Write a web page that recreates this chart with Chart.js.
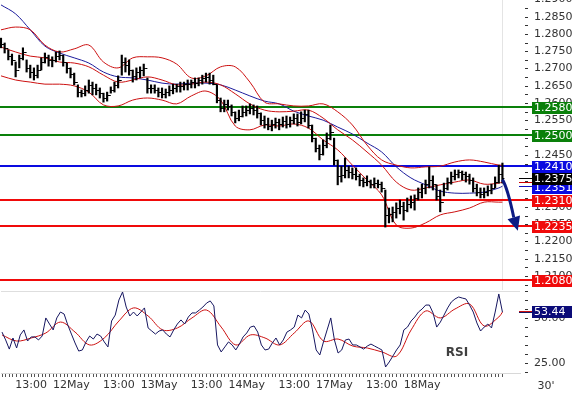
<!DOCTYPE html>
<html lang="en">
<head>
    <meta charset="UTF-8">
    <title>EUR/USD 30'</title>
    <script src="https://cdn.jsdelivr.net/npm/chart.js"></script>
    <style>
        body {
            margin: 0;
            background: #fff;
            width: 572px;
            height: 398px;
            overflow: hidden;
            position: relative;
        }
        .panel {
            position: absolute;
            left: 0;
            width: 572px;
        }
        #price-box { top: -10px; height: 300px; }
        #rsi-box { top: 290px; height: 108px; }
    </style>
</head>
<body>
    <div class="panel" id="price-box"><canvas id="price-chart"></canvas></div>
    <div class="panel" id="rsi-box"><canvas id="rsi-chart"></canvas></div>

    <script>
        // hourly bars
        const highs = [
            1.2779, 1.2765, 1.2745, 1.2733, 1.2710, 1.2730, 1.2751, 1.2716, 1.2701, 1.2693,
            1.2701, 1.2722, 1.2736, 1.2730, 1.2725, 1.2739, 1.2742, 1.2730, 1.2707, 1.2693,
            1.2678, 1.2644, 1.2629, 1.2641, 1.2658, 1.2652, 1.2646, 1.2635, 1.2620, 1.2623,
            1.2638, 1.2652, 1.2670, 1.2730, 1.2722, 1.2716, 1.2687, 1.2693, 1.2696, 1.2704,
            1.2664, 1.2644, 1.2644, 1.2635, 1.2635, 1.2632, 1.2641, 1.2646, 1.2646, 1.2652,
            1.2652, 1.2658, 1.2658, 1.2664, 1.2664, 1.2672, 1.2678, 1.2678, 1.2672, 1.2644,
            1.2606, 1.2600, 1.2600, 1.2586, 1.2566, 1.2571, 1.2583, 1.2583, 1.2589, 1.2586,
            1.2583, 1.2563, 1.2554, 1.2548, 1.2542, 1.2548, 1.2545, 1.2551, 1.2554, 1.2551,
            1.2560, 1.2560, 1.2566, 1.2571, 1.2571, 1.2528, 1.2490, 1.2470, 1.2485, 1.2505,
            1.2528, 1.2490, 1.2427, 1.2409, 1.2433, 1.2409, 1.2404, 1.2404, 1.2386, 1.2375,
            1.2381, 1.2369, 1.2375, 1.2369, 1.2363, 1.2340, 1.2288, 1.2291, 1.2303, 1.2311,
            1.2305, 1.2317, 1.2323, 1.2326, 1.2346, 1.2357, 1.2369, 1.2407, 1.2381, 1.2355,
            1.2340, 1.2360, 1.2375, 1.2392, 1.2398, 1.2398, 1.2395, 1.2392, 1.2386, 1.2375,
            1.2357, 1.2346, 1.2346, 1.2352, 1.2357, 1.2378, 1.2412, 1.2418
        ];
        const lows = [
            1.2751, 1.2736, 1.2716, 1.2701, 1.2667, 1.2693, 1.2716, 1.2681, 1.2664, 1.2658,
            1.2664, 1.2687, 1.2707, 1.2698, 1.2696, 1.2710, 1.2716, 1.2698, 1.2678, 1.2664,
            1.2644, 1.2609, 1.2609, 1.2612, 1.2620, 1.2615, 1.2615, 1.2606, 1.2594, 1.2597,
            1.2620, 1.2623, 1.2635, 1.2672, 1.2681, 1.2672, 1.2652, 1.2658, 1.2664, 1.2670,
            1.2620, 1.2620, 1.2620, 1.2609, 1.2606, 1.2606, 1.2612, 1.2618, 1.2623, 1.2623,
            1.2629, 1.2629, 1.2635, 1.2635, 1.2641, 1.2646, 1.2652, 1.2646, 1.2644, 1.2592,
            1.2566, 1.2566, 1.2571, 1.2554, 1.2534, 1.2540, 1.2551, 1.2554, 1.2560, 1.2557,
            1.2548, 1.2528, 1.2519, 1.2514, 1.2511, 1.2519, 1.2514, 1.2522, 1.2519, 1.2522,
            1.2531, 1.2525, 1.2531, 1.2537, 1.2519, 1.2479, 1.2450, 1.2427, 1.2441, 1.2462,
            1.2485, 1.2412, 1.2355, 1.2363, 1.2375, 1.2375, 1.2372, 1.2369, 1.2352, 1.2349,
            1.2352, 1.2346, 1.2346, 1.2346, 1.2334, 1.2233, 1.2245, 1.2248, 1.2259, 1.2271,
            1.2253, 1.2277, 1.2288, 1.2282, 1.2311, 1.2317, 1.2329, 1.2346, 1.2340, 1.2311,
            1.2277, 1.2323, 1.2340, 1.2357, 1.2369, 1.2375, 1.2369, 1.2363, 1.2357, 1.2334,
            1.2323, 1.2317, 1.2317, 1.2323, 1.2329, 1.2346, 1.2360, 1.2360
        ];
        const closes = [
            1.2762, 1.2751, 1.2727, 1.2716, 1.2687, 1.2722, 1.2739, 1.2693, 1.2681, 1.2672,
            1.2687, 1.2710, 1.2725, 1.2716, 1.2716, 1.2727, 1.2730, 1.2710, 1.2693, 1.2675,
            1.2652, 1.2623, 1.2620, 1.2629, 1.2644, 1.2635, 1.2629, 1.2620, 1.2606, 1.2615,
            1.2629, 1.2644, 1.2658, 1.2710, 1.2701, 1.2687, 1.2670, 1.2681, 1.2687, 1.2693,
            1.2635, 1.2635, 1.2629, 1.2623, 1.2618, 1.2623, 1.2629, 1.2635, 1.2641, 1.2641,
            1.2646, 1.2646, 1.2652, 1.2649, 1.2658, 1.2664, 1.2667, 1.2658, 1.2646, 1.2600,
            1.2577, 1.2589, 1.2583, 1.2566, 1.2548, 1.2554, 1.2566, 1.2571, 1.2577, 1.2571,
            1.2563, 1.2542, 1.2531, 1.2525, 1.2531, 1.2537, 1.2531, 1.2540, 1.2531, 1.2542,
            1.2548, 1.2537, 1.2548, 1.2560, 1.2528, 1.2490, 1.2462, 1.2444, 1.2470, 1.2490,
            1.2508, 1.2427, 1.2381, 1.2383, 1.2398, 1.2392, 1.2386, 1.2381, 1.2369, 1.2363,
            1.2366, 1.2357, 1.2360, 1.2357, 1.2346, 1.2268, 1.2271, 1.2277, 1.2288, 1.2294,
            1.2282, 1.2300, 1.2305, 1.2317, 1.2334, 1.2346, 1.2357, 1.2369, 1.2357, 1.2323,
            1.2305, 1.2346, 1.2363, 1.2381, 1.2386, 1.2392, 1.2386, 1.2381, 1.2369, 1.2346,
            1.2334, 1.2329, 1.2334, 1.2340, 1.2346, 1.2363, 1.2386, 1.2375
        ];

        // indicator lines, sampled every 4 bars
        const bandIdx = [0, 4, 8, 12, 16, 20, 24, 28, 32, 36, 40, 44, 48, 52, 56, 60, 64, 68,
                         72, 76, 80, 84, 88, 92, 96, 100, 104, 108, 112, 116, 120, 124, 128, 132, 136, 137];
        const bbUpper = [1.2803, 1.2811, 1.2803, 1.2759, 1.2739, 1.2748, 1.2759, 1.2710, 1.2693, 1.2722,
                         1.2725, 1.2722, 1.2704, 1.2664, 1.2670, 1.2696, 1.2696, 1.2652, 1.2594, 1.2589,
                         1.2583, 1.2583, 1.2589, 1.2566, 1.2528, 1.2470, 1.2427, 1.2412, 1.2404, 1.2407,
                         1.2409, 1.2421, 1.2427, 1.2421, 1.2412, 1.2412];
        const bbMiddle = [1.2753, 1.2739, 1.2727, 1.2722, 1.2710, 1.2707, 1.2696, 1.2672, 1.2652, 1.2658,
                          1.2667, 1.2658, 1.2644, 1.2646, 1.2652, 1.2644, 1.2618, 1.2589, 1.2571, 1.2566,
                          1.2568, 1.2571, 1.2548, 1.2514, 1.2485, 1.2450, 1.2412, 1.2363, 1.2340, 1.2346,
                          1.2355, 1.2363, 1.2369, 1.2357, 1.2360, 1.2363];
        const bbLower = [1.2670, 1.2658, 1.2652, 1.2646, 1.2646, 1.2641, 1.2623, 1.2586, 1.2583, 1.2600,
                         1.2606, 1.2600, 1.2589, 1.2612, 1.2626, 1.2600, 1.2525, 1.2514, 1.2528, 1.2525,
                         1.2531, 1.2519, 1.2485, 1.2456, 1.2412, 1.2369, 1.2326, 1.2239, 1.2230, 1.2245,
                         1.2268, 1.2277, 1.2288, 1.2305, 1.2305, 1.2305];
        const maLine = [1.2875, 1.2849, 1.2803, 1.2756, 1.2736, 1.2722, 1.2707, 1.2681, 1.2667, 1.2664,
                        1.2658, 1.2649, 1.2646, 1.2649, 1.2649, 1.2644, 1.2629, 1.2612, 1.2597, 1.2589,
                        1.2568, 1.2554, 1.2542, 1.2522, 1.2502, 1.2476, 1.2450, 1.2407, 1.2375, 1.2355,
                        1.2337, 1.2331, 1.2331, 1.2334, 1.2346, 1.2351];

        const rsi = [
            42.3, 37.9, 32.8, 39.0, 33.4, 40.7, 43.5, 37.3, 39.6, 39.6,
            37.9, 40.1, 50.2, 46.8, 43.5, 50.2, 53.5, 52.4, 46.3, 41.2,
            36.2, 31.7, 32.3, 36.8, 40.1, 38.4, 41.2, 40.1, 36.8, 34.0,
            48.5, 51.8, 60.2, 64.7, 56.3, 51.3, 53.5, 51.3, 53.5, 55.8,
            44.6, 42.9, 41.2, 42.9, 43.5, 41.2, 39.6, 43.5, 46.8, 49.1,
            46.8, 50.7, 53.0, 53.0, 54.6, 56.3, 58.5, 59.7, 56.9, 35.1,
            31.2, 34.0, 36.8, 35.1, 32.3, 35.6, 39.6, 41.8, 45.1, 45.7,
            42.3, 35.1, 32.3, 32.8, 36.2, 39.0, 35.1, 37.9, 42.3, 43.5,
            45.1, 51.8, 50.2, 54.6, 52.4, 43.5, 32.3, 29.5, 36.8, 43.5,
            50.2, 37.9, 30.6, 32.3, 37.9, 38.4, 35.1, 35.1, 34.0, 32.8,
            34.5, 35.6, 34.5, 33.4, 32.3, 22.8, 25.6, 28.9, 32.3, 35.1,
            43.5, 45.1, 48.5, 50.7, 53.5, 55.2, 57.4, 57.4, 53.0, 45.1,
            47.9, 51.8, 55.8, 59.1, 60.8, 61.9, 61.3, 60.8, 57.4, 53.5,
            47.4, 42.9, 45.1, 46.8, 44.6, 53.5, 63.6, 53.44
        ];
        const rsiSignal = [40.7, 37.3, 39.0, 41.8, 47.9, 42.3, 35.1, 39.0, 48.5, 55.8,
                           51.3, 43.5, 44.6, 50.2, 54.6, 45.1, 35.1, 40.7, 39.0, 35.1,
                           41.8, 48.5, 37.3, 38.4, 34.5, 33.4, 31.2, 28.9, 43.5, 54.1,
                           50.2, 55.2, 58.0, 45.7, 50.7, 53.5];

        // support / resistance levels
        const levels = [1.2580, 1.2500, 1.2410, 1.2310, 1.2235, 1.2080];
        const levelColors = ['#0a800a', '#0a800a', '#0a0ae0', '#f00a0a', '#f00a0a', '#f00a0a'];

        // projected move (bar index, price)
        const arrowFrom = [137, 1.2370];
        const arrowTo = [141.2, 1.2222];

        // time axis
        const timeIdx = [8, 19, 32, 43, 56, 67, 80, 91, 104, 115];
        const timeLabels = ['13:00', '12May', '13:00', '13May', '13:00', '14May', '13:00', '17May', '13:00', '18May'];

        const X_MIN = -0.27, X_MAX = 141.8;
        const FONT = '"DejaVu Sans", sans-serif';
        Chart.defaults.font.family = FONT;

        const last = closes.length - 1;

        function tag(ctx, a, py, text, bg) {
            ctx.fillStyle = bg;
            ctx.fillRect(a.right + 12, Math.round(py) - 6, 40, 12);
            ctx.fillStyle = '#fff';
            ctx.fillText(text, a.right + 14, Math.round(py) + 0.5);
        }

        function marker(ctx, a, py, color) {
            const yy = Math.round(py) + 0.5;
            ctx.strokeStyle = color;
            ctx.lineWidth = 1;
            ctx.beginPath();
            ctx.moveTo(a.right - 1, yy);
            ctx.lineTo(a.right + 12, yy);
            ctx.stroke();
        }

        const priceOverlay = {
            id: 'priceOverlay',
            beforeDatasetsDraw(chart) {
                const { ctx, chartArea: a, scales: { x, y } } = chart;
                ctx.save();
                const nx = Math.round(x.getPixelForValue(last)) + 0.5;
                ctx.strokeStyle = '#e4e4e4';
                ctx.lineWidth = 1;
                ctx.beginPath();
                ctx.moveTo(nx, a.top);
                ctx.lineTo(nx, a.bottom);
                ctx.stroke();

                levels.forEach((v, k) => {
                    const py = Math.round(y.getPixelForValue(v));
                    ctx.strokeStyle = levelColors[k];
                    ctx.lineWidth = 2;
                    ctx.beginPath();
                    ctx.moveTo(a.left, py);
                    ctx.lineTo(a.right + 14, py);
                    ctx.stroke();
                });
                ctx.restore();
            },
            afterDatasetsDraw(chart) {
                const { ctx, scales: { x, y } } = chart;
                ctx.save();
                ctx.strokeStyle = '#000';
                ctx.lineWidth = 1;
                ctx.beginPath();
                closes.forEach((c, i) => {
                    const px = x.getPixelForValue(i);
                    const cy = Math.round(y.getPixelForValue(c)) + 0.5;
                    ctx.moveTo(px, cy);
                    ctx.lineTo(px + 2, cy);
                    if (i > 0) {
                        const oy = Math.round(y.getPixelForValue(closes[i - 1])) + 0.5;
                        ctx.moveTo(px - 2, oy);
                        ctx.lineTo(px, oy);
                    }
                });
                ctx.stroke();
                ctx.restore();
            },
            afterDraw(chart) {
                const { ctx, chartArea: a, scales: { x, y } } = chart;
                ctx.save();
                ctx.font = '11px ' + FONT;
                ctx.textBaseline = 'middle';
                ctx.textAlign = 'left';

                // right axis ticks and labels (printed a touch below the value, as in the source)
                y.ticks.forEach(t => {
                    const py = Math.round(y.getPixelForValue(t.value)) + 3.5;
                    ctx.strokeStyle = '#333';
                    ctx.lineWidth = 1;
                    ctx.beginPath();
                    ctx.moveTo(a.right + 5, py);
                    ctx.lineTo(a.right + 8, py);
                    ctx.stroke();
                    if (Math.round(t.value * 10000) % 50 === 0) {
                        ctx.fillStyle = '#333';
                        ctx.fillText(t.value.toFixed(4), a.right + 14, py);
                    }
                });

                // markers at the last bar
                marker(ctx, a, y.getPixelForValue(closes[last]), '#000');
                marker(ctx, a, y.getPixelForValue(bbMiddle[bbMiddle.length - 1]), '#cc0000');
                marker(ctx, a, y.getPixelForValue(maLine[maLine.length - 1]), '#1010c0');

                levels.forEach((v, k) => tag(ctx, a, y.getPixelForValue(v) + 1, v.toFixed(4), levelColors[k]));
                tag(ctx, a, y.getPixelForValue(maLine[maLine.length - 1]) + 2, maLine[maLine.length - 1].toFixed(4), '#0a0ae0');
                tag(ctx, a, y.getPixelForValue(closes[last]) + 1, closes[last].toFixed(4), '#000');

                // arrow
                const x0 = x.getPixelForValue(arrowFrom[0]), y0 = y.getPixelForValue(arrowFrom[1]);
                const x1 = x.getPixelForValue(arrowTo[0]), y1 = y.getPixelForValue(arrowTo[1]);
                const ang = Math.atan2(y1 - y0, x1 - x0);
                const hl = 14, hw = 6.5;
                const bx = x1 - hl * Math.cos(ang), by = y1 - hl * Math.sin(ang);
                ctx.strokeStyle = '#0c1a84';
                ctx.fillStyle = '#0c1a84';
                ctx.lineWidth = 3;
                ctx.beginPath();
                ctx.moveTo(x0, y0);
                ctx.quadraticCurveTo(x0 + 5, y0 + 8, bx, by);
                ctx.stroke();
                ctx.beginPath();
                ctx.moveTo(x1, y1);
                ctx.lineTo(bx + hw * Math.sin(ang), by - hw * Math.cos(ang));
                ctx.lineTo(bx - hw * Math.sin(ang), by + hw * Math.cos(ang));
                ctx.closePath();
                ctx.fill();
                ctx.restore();
            }
        };

        const lineDs = (values, color) => ({
            type: 'line',
            data: bandIdx.map((i, k) => ({ x: i, y: values[k] })),
            borderColor: color,
            borderWidth: 1,
            pointRadius: 0,
            tension: 0.35,
            order: 1
        });

        new Chart(document.getElementById('price-chart'), {
            type: 'bar',
            data: {
                datasets: [
                    {
                        data: highs.map((h, i) => ({ x: i, y: [lows[i], h] })),
                        backgroundColor: '#000',
                        barThickness: 1.5,
                        grouped: false,
                        order: 0
                    },
                    lineDs(bbUpper, '#cc1010'),
                    lineDs(bbMiddle, '#cc1010'),
                    lineDs(bbLower, '#cc1010'),
                    lineDs(maLine, '#1c1c9c')
                ]
            },
            options: {
                responsive: true,
                maintainAspectRatio: false,
                animation: false,
                events: [],
                layout: { padding: 0 },
                plugins: { legend: { display: false }, tooltip: { enabled: false } },
                scales: {
                    x: { type: 'linear', offset: false, min: X_MIN, max: X_MAX, display: false },
                    y: {
                        position: 'right',
                        min: 1.20511,
                        max: 1.29181,
                        ticks: { display: false, stepSize: 0.0025, includeBounds: false },
                        grid: { display: false },
                        border: { display: false },
                        afterFit: s => { s.width = 52; }
                    }
                }
            },
            plugins: [priceOverlay]
        });

        const rsiOverlay = {
            id: 'rsiOverlay',
            beforeDatasetsDraw(chart) {
                const { ctx, chartArea: a } = chart;
                ctx.save();
                ctx.strokeStyle = '#dedede';
                ctx.lineWidth = 1;
                ctx.beginPath();
                ctx.moveTo(a.left, a.top + 0.5);
                ctx.lineTo(a.right, a.top + 0.5);
                ctx.stroke();
                ctx.restore();
            },
            afterDraw(chart) {
                const { ctx, chartArea: a, scales: { y } } = chart;
                ctx.save();
                ctx.font = '11px ' + FONT;
                ctx.textBaseline = 'middle';
                y.ticks.forEach(t => {
                    const py = Math.round(y.getPixelForValue(t.value)) + 0.5;
                    ctx.strokeStyle = '#333';
                    ctx.lineWidth = 1;
                    ctx.beginPath();
                    ctx.moveTo(a.right + 5, py);
                    ctx.lineTo(a.right + 8, py);
                    ctx.stroke();
                    if (Math.round(t.value) % 25 === 0) {
                        ctx.fillStyle = '#333';
                        ctx.fillText(t.value.toFixed(2), a.right + 14, py);
                    }
                });
                const ry = y.getPixelForValue(rsi[last]);
                marker(ctx, a, ry - 1, '#cc1010');
                marker(ctx, a, ry, '#161660');
                tag(ctx, a, ry, rsi[last].toFixed(2), '#0b0b78');

                ctx.fillStyle = '#333';
                ctx.textAlign = 'center';
                ctx.fillText("30'", a.right + 26, a.bottom + 13);

                ctx.font = 'bold 12px ' + FONT;
                ctx.fillStyle = '#404040';
                ctx.fillText('RSI', a.left + 456, a.top + 62);
                ctx.restore();
            }
        };

        new Chart(document.getElementById('rsi-chart'), {
            type: 'line',
            data: {
                datasets: [
                    {
                        data: rsiSignal.map((v, k) => ({ x: bandIdx[k], y: v })),
                        borderColor: '#cc1010',
                        borderWidth: 1,
                        pointRadius: 0,
                        tension: 0.35,
                        order: 1
                    },
                    {
                        data: rsi.map((v, i) => ({ x: i, y: v })),
                        borderColor: '#161660',
                        borderWidth: 1,
                        pointRadius: 0,
                        tension: 0,
                        order: 0
                    }
                ]
            },
            options: {
                responsive: true,
                maintainAspectRatio: false,
                animation: false,
                events: [],
                layout: { padding: { top: 1 } },
                plugins: { legend: { display: false }, tooltip: { enabled: false } },
                scales: {
                    x: {
                        type: 'linear',
                        offset: false,
                        min: X_MIN,
                        max: X_MAX,
                        afterBuildTicks: s => { s.ticks = closes.map((c, i) => ({ value: i })); },
                        ticks: {
                            autoSkip: false,
                            maxRotation: 0,
                            minRotation: 0,
                            padding: 2,
                            color: '#333',
                            font: { size: 11 },
                            callback: v => {
                                const k = timeIdx.indexOf(v);
                                return k >= 0 ? timeLabels[k] : '';
                            }
                        },
                        grid: { drawOnChartArea: false, tickLength: 4, color: '#555' },
                        border: { display: true, color: '#d8d8d8' },
                        afterFit: s => { s.height = 25; }
                    },
                    y: {
                        position: 'right',
                        min: 19.44,
                        max: 65.25,
                        ticks: { display: false, stepSize: 5, includeBounds: false },
                        grid: { display: false },
                        border: { display: false },
                        afterFit: s => { s.width = 52; }
                    }
                }
            },
            plugins: [rsiOverlay]
        });
    </script>
</body>
</html>
